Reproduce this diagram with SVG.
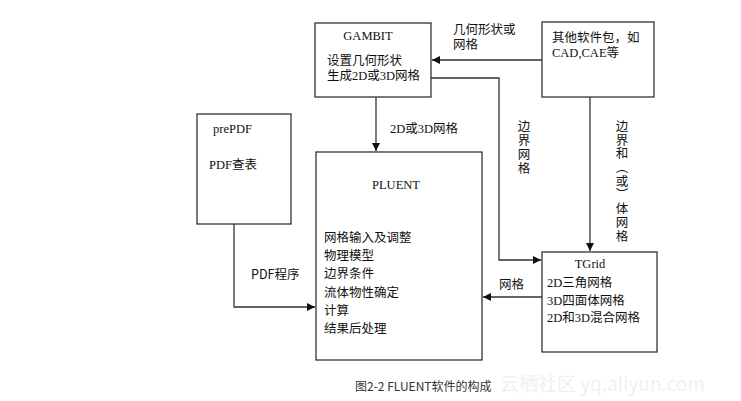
<svg xmlns="http://www.w3.org/2000/svg" width="741" height="401" viewBox="0 0 741 401">
<defs>
<marker id="ah" viewBox="0 0 10 10" refX="10" refY="5" markerWidth="8" markerHeight="8" markerUnits="userSpaceOnUse" orient="auto">
<path d="M0,0 L10,5 L0,10 z" fill="#111"/>
</marker>
<style>
.box{fill:#fff;stroke:#333;stroke-width:1.3}
.ln{fill:none;stroke:#333;stroke-width:1.3}
.t{font-family:"Liberation Serif","Noto Sans CJK SC",serif;font-size:12.5px;fill:#111}
.c{font-family:"Noto Sans CJK SC","Liberation Serif",serif;font-size:12.5px;fill:#111}
.v{font-family:"Noto Sans CJK SC",serif;font-size:12.5px;fill:#111;writing-mode:vertical-rl}
.cap{font-family:"Noto Sans CJK SC","Noto Sans",sans-serif;font-size:12px;fill:#333}
.wm{font-family:"Noto Sans CJK SC","Noto Sans",sans-serif;font-size:19px;fill:#f0f0f0}
</style>
</defs>
<rect width="741" height="401" fill="#fff"/>
<g id="connectors">
<line class="ln" x1="542" y1="60" x2="432" y2="60" marker-end="url(#ah)"/>
<polyline class="ln" points="431,78 499,78 499,260 541,260" marker-end="url(#ah)"/>
<line class="ln" x1="376" y1="97" x2="376" y2="151" marker-end="url(#ah)"/>
<line class="ln" x1="590" y1="97" x2="590" y2="251" marker-end="url(#ah)"/>
<polyline class="ln" points="234,224 234,307 315,307" marker-end="url(#ah)"/>
<line class="ln" x1="542" y1="297" x2="483" y2="297" marker-end="url(#ah)"/>
<text class="c" x="453" y="34">几何形状或</text>
<text class="t" x="453" y="49">网格</text>
<text class="t" x="390" y="133">2D或3D网格</text>
<text class="c" x="251" y="279">PDF程序</text>
<text class="c" x="499" y="289">网格</text>
<text class="v" x="524" y="120" style="letter-spacing:1.6px">边界网格</text>
<text class="v" x="622" y="120" style="letter-spacing:1.2px">边界和（或）体网格</text>
</g>
<g id="gambit">
<rect class="box" x="315" y="23" width="116" height="74"/>
<text class="t" x="368" y="40" text-anchor="middle">GAMBIT</text>
<text class="c" x="327" y="65">设置几何形状</text>
<text class="t" x="327" y="80">生成2D或3D网格</text>
</g>
<g id="other">
<rect class="box" x="542" y="22" width="112" height="75"/>
<text class="c" x="552" y="42">其他软件包，如</text>
<text class="t" x="552" y="57">CAD,CAE等</text>
</g>
<g id="prepdf">
<rect class="box" x="197" y="114" width="94" height="110"/>
<text class="t" x="213" y="133">prePDF</text>
<text class="t" x="209" y="169">PDF查表</text>
</g>
<g id="pluent">
<rect class="box" x="316" y="152" width="166" height="208"/>
<text class="t" x="396" y="189" text-anchor="middle">PLUENT</text>
<text class="c" x="324" y="242">网格输入及调整</text>
<text class="c" x="324" y="260">物理模型</text>
<text class="c" x="324" y="278">边界条件</text>
<text class="c" x="324" y="297">流体物性确定</text>
<text class="c" x="324" y="315">计算</text>
<text class="c" x="324" y="333">结果后处理</text>
</g>
<g id="tgrid">
<rect class="box" x="542" y="252" width="115" height="100"/>
<text class="t" x="590" y="268" text-anchor="middle">TGrid</text>
<text class="t" x="547" y="287">2D三角网格</text>
<text class="t" x="547" y="305">3D四面体网格</text>
<text class="t" x="547" y="322">2D和3D混合网格</text>
</g>
<text class="wm" x="500" y="391">云栖社区 yq.aliyun.com</text>
<text class="cap" x="355" y="391">图2-2 FLUENT软件的构成</text>
</svg>
